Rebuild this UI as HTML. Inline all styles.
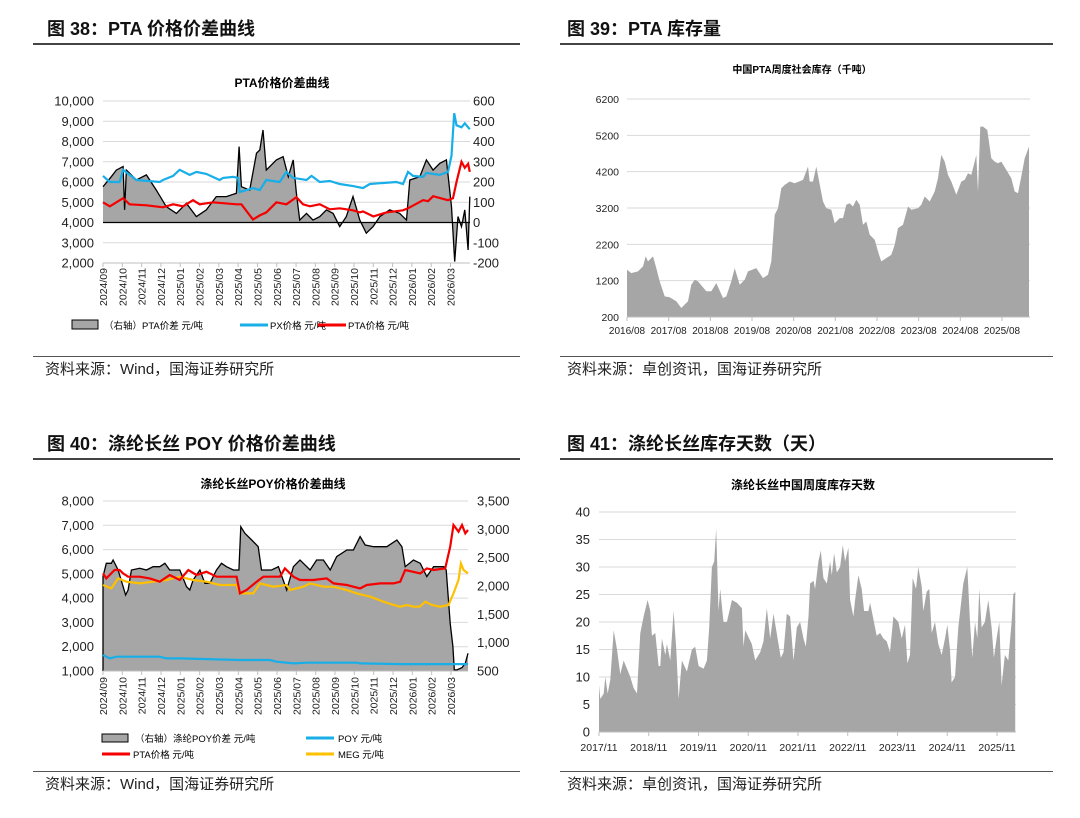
<!DOCTYPE html>
<html><head><meta charset="utf-8">
<style>
html,body{margin:0;padding:0;background:#fff;}
body{width:1080px;height:818px;position:relative;overflow:hidden;font-family:"Liberation Sans","Noto Sans CJK SC",sans-serif;}
.hdr{position:absolute;font-weight:bold;font-size:18px;color:#111;line-height:20px;}
.rule{position:absolute;height:0;border-top:2px solid #444;}
.rule.thin{border-top:1.5px solid #555;}
.src{position:absolute;font-size:15px;color:#222;line-height:18px;}
svg{position:absolute;left:0;top:0;}
svg text{font-family:"Liberation Sans","Noto Sans CJK SC",sans-serif;}
</style></head>
<body>
<div class="hdr" style="left:47px;top:19px;">图 38：PTA 价格价差曲线</div>
<div class="hdr" style="left:567px;top:19px;">图 39：PTA 库存量</div>
<div class="rule" style="left:33px;width:487px;top:43px;"></div>
<div class="rule" style="left:560px;width:493px;top:43px;"></div>
<div class="rule thin" style="left:33px;width:487px;top:356px;"></div>
<div class="rule thin" style="left:560px;width:493px;top:356px;"></div>
<div class="src" style="left:45px;top:361px;">资料来源：Wind，国海证券研究所</div>
<div class="src" style="left:567px;top:361px;">资料来源：卓创资讯，国海证券研究所</div>
<div class="hdr" style="left:47px;top:434px;">图 40：涤纶长丝 POY 价格价差曲线</div>
<div class="hdr" style="left:567px;top:434px;">图 41：涤纶长丝库存天数（天）</div>
<div class="rule" style="left:33px;width:487px;top:458px;"></div>
<div class="rule" style="left:560px;width:493px;top:458px;"></div>
<div class="rule thin" style="left:33px;width:487px;top:771px;"></div>
<div class="rule thin" style="left:560px;width:493px;top:771px;"></div>
<div class="src" style="left:45px;top:776px;">资料来源：Wind，国海证券研究所</div>
<div class="src" style="left:567px;top:776px;">资料来源：卓创资讯，国海证券研究所</div>

<svg id="chart" width="1080" height="818"></svg>

<script>
// ===== Chart 38 data (t = months since 2024/09) =====
const monthLabels = ["2024/09","2024/10","2024/11","2024/12","2025/01","2025/02","2025/03","2025/04","2025/05","2025/06","2025/07","2025/08","2025/09","2025/10","2025/11","2025/12","2026/01","2026/02","2026/03"];
const pxT = [0,0.35,0.86,1.04,1.73,2.94,3.11,3.63,3.97,4.49,4.84,5.35,6.04,6.22,6.74,7.0,7.08,7.77,8.12,8.46,9.15,9.5,9.85,10.54,10.8,11.23,11.75,12.26,12.95,13.47,13.82,14.51,15.2,15.54,15.8,16.06,16.58,16.75,17.44,17.87,18.05,18.19,18.31,18.57,18.74,19.0];
const pxVal = [6300,6000,6000,6600,6100,6000,6100,6300,6600,6350,6500,6400,6100,6200,6250,6200,5500,5700,5600,6100,6000,6500,6200,6100,6300,6000,6050,5900,5800,5700,5900,5950,6000,5900,6500,6300,6250,6450,6350,6500,7300,9400,8800,8700,8900,8600];
const ptaT = [0,0.35,1.04,1.38,2.25,3.11,3.63,4.15,4.66,5.01,5.7,6.91,7.17,7.77,8.12,8.46,8.98,9.5,10.02,10.36,10.71,11.23,11.75,12.26,12.95,13.3,13.47,14.0,14.68,15.54,15.8,16.58,16.84,17.1,17.87,18.13,18.31,18.57,18.74,18.91,19.0];
const ptaVal = [5000,4800,5200,4900,4850,4750,4900,4800,5100,4900,5000,4900,4900,4150,4350,4500,5000,4900,5250,4900,4800,4900,4650,4700,4600,4500,4550,4300,4500,4600,4700,5100,5050,5300,5100,5200,6000,7000,6700,6900,6500,6800];
const sprT = [0,0.43,0.69,1.04,1.12,1.21,1.73,2.25,2.76,3.28,3.8,4.32,4.84,5.35,5.87,6.39,6.91,7.05,7.17,7.6,7.95,8.12,8.29,8.46,8.98,9.33,9.6,9.85,10.02,10.19,10.54,10.88,11.23,11.57,11.92,12.26,12.6,12.95,13.3,13.64,13.99,14.34,14.85,15.37,15.72,15.89,16.41,16.75,17.1,17.44,17.79,18.05,18.22,18.39,18.57,18.74,18.91,19.0];
const sprVal = [177,226,259,276,62,259,210,235,160,78,45,95,29,62,128,128,144,375,177,160,342,358,457,259,309,325,226,309,144,12,45,12,29,62,45,-20,29,128,12,-53,-20,29,62,45,12,210,226,309,259,292,309,78,-193,29,-20,62,-136,128];
const leftTicks38 = ["2,000","3,000","4,000","5,000","6,000","7,000","8,000","9,000","10,000"];
const rightTicks38 = ["-200","-100","0","100","200","300","400","500","600"];

// ===== Chart 39 data (t = years since 2016/08) =====
const yearLabels39 = ["2016/08","2017/08","2018/08","2019/08","2020/08","2021/08","2022/08","2023/08","2024/08","2025/08"];
const invT = [0,0.104,0.264,0.384,0.448,0.504,0.624,0.704,0.784,0.904,1.024,1.184,1.304,1.464,1.544,1.624,1.704,1.904,2.024,2.144,2.304,2.384,2.504,2.584,2.704,2.824,2.904,3.104,3.264,3.384,3.464,3.544,3.624,3.704,3.784,3.904,4.024,4.224,4.344,4.384,4.464,4.544,4.704,4.784,4.904,4.984,5.104,5.184,5.264,5.344,5.424,5.504,5.584,5.664,5.744,5.824,5.944,6.048,6.104,6.224,6.344,6.424,6.504,6.624,6.744,6.824,6.984,7.064,7.144,7.264,7.384,7.464,7.544,7.624,7.704,7.784,7.904,8.024,8.104,8.184,8.264,8.344,8.384,8.424,8.48,8.544,8.648,8.744,8.824,8.904,8.984,9.104,9.224,9.304,9.384,9.464,9.544,9.648];
const invVal = [1501,1409,1455,1592,1867,1730,1867,1547,1180,768,741,631,447,631,1089,1226,1180,906,906,1134,722,768,1180,1547,1089,1226,1455,1547,1272,1364,1730,3012,3195,3745,3837,3928,3882,3974,4340,3928,3928,4340,3379,3195,3150,2783,2921,2921,3287,3333,3241,3425,3287,2737,2829,2463,2325,1913,1730,1822,1913,2188,2646,2737,3241,3150,3195,3287,3516,3379,3653,4020,4661,4478,4111,3928,3562,3928,3974,4157,4111,4478,4661,3653,5440,5440,5348,4570,4478,4432,4478,4249,4020,3653,3607,4066,4570,4890];
const yTicks39 = ["200","1200","2200","3200","4200","5200","6200"];

// ===== Chart 40 data (t = months since 2024/09) =====
const poySprT = [0,0.17,0.43,0.52,0.78,1.04,1.17,1.3,1.47,1.9,2.25,2.59,2.94,3.2,3.45,3.97,4.32,4.49,4.66,5.01,5.27,5.53,5.87,6.13,6.39,6.74,7.03,7.13,7.34,7.69,8.03,8.2,8.46,8.72,9.07,9.5,9.85,10.19,10.54,10.71,11.05,11.4,11.75,12.09,12.61,12.95,13.3,13.56,14.0,14.68,15.2,15.46,15.63,16.06,16.41,16.75,17.1,17.62,17.75,17.96,18.1,18.17,18.31,18.57,18.74,18.88];
const poySprVal = [2165,2400,2400,2459,2283,1989,1842,1930,2283,2312,2283,2341,2341,2400,2283,2283,1989,1930,2106,2283,2047,2047,2283,2400,2341,2283,2283,3047,2930,2812,2694,2283,2283,2283,2341,1930,2341,2459,2341,2283,2459,2459,2283,2518,2636,2636,2871,2724,2694,2694,2812,2694,2341,2459,2400,2165,2341,2341,2283,1342,930,519,519,560,636,812];
const pta40T = [0,0.17,0.6,0.86,1.04,1.3,1.9,2.42,2.94,3.45,3.97,4.41,4.84,5.35,5.87,6.39,6.91,7.08,7.43,7.95,8.29,8.81,9.15,9.41,9.85,10.19,10.88,11.57,11.92,12.61,13.3,13.64,14.34,15.03,15.37,15.63,16.41,16.75,17.1,17.7,17.96,18.13,18.39,18.57,18.74,18.88];
const pta40Val = [5020,4815,5158,5158,5020,4883,4883,4815,4678,4952,4746,5158,4952,5090,4883,4883,4883,4197,4334,4678,4883,4883,4883,5226,4883,4746,4746,4815,4609,4540,4403,4540,4609,4609,4678,5158,5020,5226,5158,5226,6119,7011,6737,7011,6668,6806];
const megT = [0,0.43,0.78,1.21,1.9,2.59,3.28,3.97,4.66,5.35,6.04,6.91,7.08,7.77,8.12,8.81,9.5,9.67,10.36,10.71,11.4,11.92,12.61,13.13,13.82,14.51,15.03,15.37,15.72,16.06,16.38,16.67,17.01,17.44,17.87,18.13,18.39,18.51,18.65,18.88];
const megVal = [4540,4403,4815,4678,4609,4678,4746,4883,4746,4678,4540,4540,4197,4197,4609,4472,4540,4334,4472,4609,4472,4472,4334,4197,4060,3854,3717,3648,3717,3648,3648,3854,3717,3648,3717,4197,4746,5432,5158,5020];
const poyT = [0,0.35,0.69,2.94,3.28,3.97,7.08,8.63,8.98,9.85,10.54,13.13,13.3,15.37,18.88];
const poyVal = [1657,1520,1588,1588,1520,1520,1451,1451,1382,1314,1341,1341,1314,1286,1286];
const leftTicks40 = ["1,000","2,000","3,000","4,000","5,000","6,000","7,000","8,000"];
const rightTicks40 = ["500","1,000","1,500","2,000","2,500","3,000","3,500"];

// ===== Chart 41 data (t = years since 2017/11) =====
const yearLabels41 = ["2017/11","2018/11","2019/11","2020/11","2021/11","2022/11","2023/11","2024/11","2025/11"];
const daysX = [116,120,130,135,142,150,160,170,180,190,200,210,220,230,240,250,262,270,275,285,295,300,305,315,320,330,340,348,355,365,380,395,405,415,430,440,447,455,462,468,475,480,490,500,515,530,545,550,555,575,585,600,610,620,630,640,655,662,670,680,690,700,710,720,730,737,745,750,760,765,775,782,790,800,810,815,822,830,840,848,855,865,870,880,885,895,905,912,925,930,940,950,960,970,980,990,1000,1015,1025,1035,1042,1050,1058,1068,1075,1085,1090,1100,1108,1115,1125,1135,1145,1155,1162,1170,1175,1185,1195,1210,1222,1230,1237,1245,1252,1258,1265,1275,1285,1295,1302,1310,1318,1325,1335,1345,1355,1360,1366];
const daysT = daysX.map(v => (v - 116) / 149.4);
const daysVal = [8.5,6,7,10,7,9.5,18.5,15,10.5,13,11.5,10,8,7,18,21,24,22,17.5,18,12,12,17,14,16,13,22,15,6,13,11,15,15.5,12,11.5,13,19,30,31,37,22,26,20,20,24,23.5,22.5,15.5,18.5,16,13,14.5,16.5,22.5,17,21.5,16,13.5,14.5,21.5,21,13,19,20,17,15.5,21,27,27.5,26,31,33,28,27,31,28.5,32.5,29,30,34,31,33.5,24,21,24,28.5,26,22,22,23.5,20.5,17.5,18,17,16.5,14.5,21,20,17,19.5,12.5,14,28,26,30,26.5,22,25.5,26,18,20,16,14,17,19.5,15,9,10,19,27,30,20,13.5,20,17,26,19,20,24,19,13.5,17,20,8.5,14,13,20,25,25.5];
const yTicks41 = ["0","5","10","15","20","25","30","35","40"];

const NS = "http://www.w3.org/2000/svg";
const svg = document.getElementById("chart");
function mk(tag, attrs, parent) {
  const e = document.createElementNS(NS, tag);
  for (const k in attrs) e.setAttribute(k, attrs[k]);
  (parent || svg).appendChild(e);
  return e;
}
function lin(d0, d1, r0, r1) { return v => r0 + (v - d0) * (r1 - r0) / (d1 - d0); }
function pathD(ts, vs, xs, ys) { return ts.map((t, i) => (i ? "L" : "M") + xs(t).toFixed(1) + "," + ys(vs[i]).toFixed(1)).join(""); }

// ---------- Chart 38 ----------
(function () {
  const g = mk("g", {});
  
  
  const x = lin(0, 18, 103, 450.5), yl = lin(2000, 10000, 263, 101), yr = lin(-200, 600, 263, 101);
  const t = mk("text", {x: 282, y: 87, "text-anchor": "middle", "font-size": 12, "font-weight": "bold"}, g);
  t.textContent = "PTA价格价差曲线";
  
  
  leftTicks38.forEach((lab, i) => {
    const v = 2000 + i * 1000;
    const gl = mk("line", {x1: 103, x2: 470, y1: yl(v), y2: yl(v), stroke: "#d9d9d9", "stroke-width": 1}, g);
    
    
    const tx = mk("text", {x: 94, y: yl(v) + 4.5, "text-anchor": "end", "font-size": 13, fill: "#222"}, g);
    tx.textContent = lab;
    
    
  });
  rightTicks38.forEach((lab, i) => {
    const v = -200 + i * 100;
    const tx = mk("text", {x: 473, y: yr(v) + 4.5, "font-size": 13, fill: "#222"}, g);
    tx.textContent = lab;
    
    
  });
  const x0 = x(sprT[0]), x1 = x(sprT[sprT.length - 1]);
  const area = mk("path", {d: pathD(sprT, sprVal, x, yr) + "L" + x1 + "," + yr(0) + "L" + x0 + "," + yr(0) + "Z", fill: "#a6a6a6", stroke: "none"}, g);
  
  
  const sl = mk("path", {d: pathD(sprT, sprVal, x, yr), fill: "none", stroke: "#000", "stroke-width": 1.3}, g);
  
  
  const base = mk("line", {x1: 103, x2: 470, y1: yr(0), y2: yr(0), stroke: "#000", "stroke-width": 1.2}, g);
  
  
  const px = mk("path", {d: pathD(pxT, pxVal, x, yl), fill: "none", stroke: "#18aee8", "stroke-width": 2.2}, g);
  
  
  const pta = mk("path", {d: pathD(ptaT, ptaVal, x, yl), fill: "none", stroke: "#f50000", "stroke-width": 2.2}, g);
  
  
  const ax = mk("line", {x1: 103, x2: 470, y1: 263, y2: 263, stroke: "#bfbfbf"}, g);
  
  
  monthLabels.forEach((lab, i) => {
    const xx = x(i);
    const tk = mk("line", {x1: xx, x2: xx, y1: 263, y2: 267, stroke: "#bfbfbf"}, g);
    
    
    const tx = mk("text", {x: xx + 4, y: 268, "text-anchor": "end", "font-size": 10.5, fill: "#222", transform: "rotate(-90 " + (xx + 4) + " 268)"}, g);
    tx.textContent = lab;
    
    
  });
  const lb = mk("rect", {x: 72, y: 320, width: 26, height: 9, fill: "#a6a6a6", stroke: "#000", "stroke-width": 1}, g);
  
  
  const l1 = mk("text", {x: 104, y: 329, "font-size": 9.5}, g); l1.textContent = "（右轴）PTA价差 元/吨";
  
  
  const lbl = mk("line", {x1: 240, x2: 268, y1: 325, y2: 325, stroke: "#18aee8", "stroke-width": 3}, g);
  
  
  const l2 = mk("text", {x: 270, y: 329, "font-size": 9.5}, g); l2.textContent = "PX价格 元/吨";
  
  
  const lrl = mk("line", {x1: 318, x2: 346, y1: 325, y2: 325, stroke: "#f50000", "stroke-width": 3}, g);
  
  
  const l3 = mk("text", {x: 348, y: 329, "font-size": 9.5}, g); l3.textContent = "PTA价格 元/吨";
  
  
})();

// ---------- Chart 39 ----------
(function () {
  const g = mk("g", {});
  
  
  const x = lin(0, 9, 627, 1002), y = lin(200, 6200, 317, 99);
  const t = mk("text", {x: 802, y: 73, "text-anchor": "middle", "font-size": 10, "font-weight": "bold"}, g);
  t.textContent = "中国PTA周度社会库存（千吨）";
  
  
  yTicks39.forEach((lab, i) => {
    const v = 200 + i * 1000;
    const gl = mk("line", {x1: 627, x2: 1030, y1: y(v), y2: y(v), stroke: "#d9d9d9"}, g);
    
    
    const tx = mk("text", {x: 619, y: y(v) + 4, "text-anchor": "end", "font-size": 10.5, fill: "#222"}, g);
    tx.textContent = lab;
    
    
  });
  const x1 = x(invT[invT.length - 1]);
  const a = mk("path", {d: pathD(invT, invVal, x, y) + "L" + x1 + "," + y(200) + "L" + x(0) + "," + y(200) + "Z", fill: "#a6a6a6"}, g);
  
  
  const ax = mk("line", {x1: 627, x2: 1030, y1: 317, y2: 317, stroke: "#bfbfbf"}, g);
  
  
  yearLabels39.forEach((lab, i) => {
    const tk = mk("line", {x1: x(i), x2: x(i), y1: 317, y2: 321, stroke: "#bfbfbf"}, g);
    
    
    const tx = mk("text", {x: x(i), y: 334, "text-anchor": "middle", "font-size": 10, fill: "#222"}, g);
    tx.textContent = lab;
    
    
  });
})();

// ---------- Chart 40 ----------
(function () {
  const g = mk("g", {});
  
  
  const x = lin(0, 18, 103, 451), yl = lin(1000, 8000, 671, 501), yr = lin(500, 3500, 671, 501);
  const t = mk("text", {x: 273, y: 488, "text-anchor": "middle", "font-size": 12, "font-weight": "bold"}, g);
  t.textContent = "涤纶长丝POY价格价差曲线";
  
  
  leftTicks40.forEach((lab, i) => {
    const v = 1000 + i * 1000;
    const gl = mk("line", {x1: 103, x2: 468, y1: yl(v), y2: yl(v), stroke: "#d9d9d9"}, g);
    
    
    const tx = mk("text", {x: 94, y: yl(v) + 4.5, "text-anchor": "end", "font-size": 13, fill: "#222"}, g);
    tx.textContent = lab;
    
    
  });
  rightTicks40.forEach((lab, i) => {
    const v = 500 + i * 500;
    const tx = mk("text", {x: 477, y: yr(v) + 4.5, "font-size": 13, fill: "#222"}, g);
    tx.textContent = lab;
    
    
  });
  const x1 = x(poySprT[poySprT.length - 1]);
  const a = mk("path", {d: "M" + x(0) + "," + yr(500) + "L" + pathD(poySprT, poySprVal, x, yr).slice(1) + "L" + x1 + "," + yr(500) + "Z", fill: "#a6a6a6"}, g);
  
  
  const sl = mk("path", {d: "M" + x(0) + "," + yr(500) + "L" + pathD(poySprT, poySprVal, x, yr).slice(1), fill: "none", stroke: "#000", "stroke-width": 1.3}, g);
  
  
  const poy = mk("path", {d: pathD(poyT, poyVal, x, yl), fill: "none", stroke: "#18aee8", "stroke-width": 2.2}, g);
  
  
  const meg = mk("path", {d: pathD(megT, megVal, x, yl), fill: "none", stroke: "#ffc000", "stroke-width": 2.2}, g);
  
  
  const pta = mk("path", {d: pathD(pta40T, pta40Val, x, yl), fill: "none", stroke: "#f50000", "stroke-width": 2.2}, g);
  
  
  const ax = mk("line", {x1: 103, x2: 468, y1: 671, y2: 671, stroke: "#bfbfbf"}, g);
  
  
  monthLabels.forEach((lab, i) => {
    const xx = x(i);
    const tk = mk("line", {x1: xx, x2: xx, y1: 671, y2: 675, stroke: "#bfbfbf"}, g);
    
    
    const tx = mk("text", {x: xx + 4, y: 677, "text-anchor": "end", "font-size": 10.5, fill: "#222", transform: "rotate(-90 " + (xx + 4) + " 677)"}, g);
    tx.textContent = lab;
    
    
  });
  const lb = mk("rect", {x: 102, y: 734, width: 26, height: 8, fill: "#a6a6a6", stroke: "#000"}, g);
  
  
  const l1 = mk("text", {x: 135, y: 742, "font-size": 9.5}, g); l1.textContent = "（右轴）涤纶POY价差 元/吨";
  
  
  const lbl = mk("line", {x1: 306, x2: 334, y1: 738, y2: 738, stroke: "#18aee8", "stroke-width": 3}, g);
  
  
  const l2 = mk("text", {x: 338, y: 742, "font-size": 9.5}, g); l2.textContent = "POY 元/吨";
  
  
  const lrl = mk("line", {x1: 102, x2: 130, y1: 754, y2: 754, stroke: "#f50000", "stroke-width": 3}, g);
  
  
  const l3 = mk("text", {x: 133, y: 758, "font-size": 9.5}, g); l3.textContent = "PTA价格 元/吨";
  
  
  const lyl = mk("line", {x1: 306, x2: 334, y1: 754, y2: 754, stroke: "#ffc000", "stroke-width": 3}, g);
  
  
  const l4 = mk("text", {x: 338, y: 758, "font-size": 9.5}, g); l4.textContent = "MEG 元/吨";
  
  
})();

// ---------- Chart 41 ----------
(function () {
  const g = mk("g", {});
  
  
  const x = lin(0, 8, 599, 997), y = lin(0, 40, 732, 512);
  const t = mk("text", {x: 803, y: 489, "text-anchor": "middle", "font-size": 12, "font-weight": "bold"}, g);
  t.textContent = "涤纶长丝中国周度库存天数";
  
  
  yTicks41.forEach((lab, i) => {
    const v = i * 5;
    const gl = mk("line", {x1: 599, x2: 1016, y1: y(v), y2: y(v), stroke: "#d9d9d9"}, g);
    
    
    const tx = mk("text", {x: 590, y: y(v) + 4.5, "text-anchor": "end", "font-size": 13, fill: "#222"}, g);
    tx.textContent = lab;
    
    
  });
  const x1 = x(daysT[daysT.length - 1]);
  const a = mk("path", {d: pathD(daysT, daysVal, x, y) + "L" + x1 + "," + y(0) + "L" + x(0) + "," + y(0) + "Z", fill: "#a6a6a6"}, g);
  
  
  const ax = mk("line", {x1: 599, x2: 1016, y1: 732, y2: 732, stroke: "#bfbfbf"}, g);
  
  
  yearLabels41.forEach((lab, i) => {
    const tk = mk("line", {x1: x(i), x2: x(i), y1: 732, y2: 736, stroke: "#bfbfbf"}, g);
    
    
    const tx = mk("text", {x: x(i), y: 751, "text-anchor": "middle", "font-size": 10.5, fill: "#222"}, g);
    tx.textContent = lab;
    
    
  });
})();
</script>
</body></html>
